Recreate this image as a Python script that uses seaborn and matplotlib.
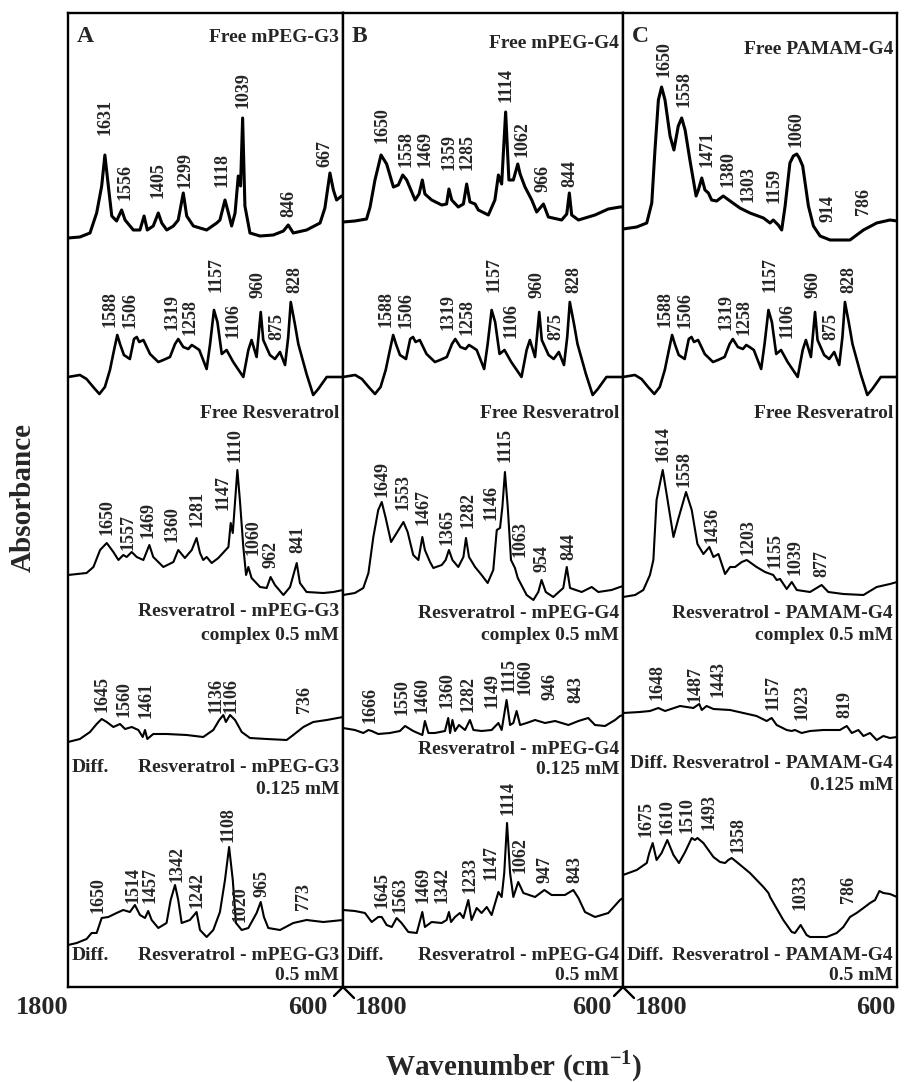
import matplotlib
matplotlib.use("Agg")
import matplotlib.pyplot as plt
from matplotlib.lines import Line2D
import numpy as np
import pandas as pd
import seaborn as sns

sns.set_theme(style="white")
plt.rcParams['font.family'] = ['Liberation Serif', 'DejaVu Serif']
plt.rcParams['font.weight'] = 'bold'
plt.rcParams['mathtext.fontset'] = 'custom'
plt.rcParams['mathtext.rm'] = 'Liberation Serif:bold'
plt.rcParams['mathtext.bf'] = 'Liberation Serif:bold'

# ---- spectra: wavenumber (cm-1) and absorbance above the trace baseline (a.u.)
g3_wn = [1800, 1748, 1704, 1675, 1653, 1639, 1624, 1609, 1588, 1566, 1551, 1515, 1486, 1468, 1454, 1428,
         1406, 1391, 1369, 1340, 1319, 1297, 1282, 1253, 1195, 1151, 1137, 1115, 1100, 1086, 1071, 1057,
         1047, 1038, 1028, 1006, 962, 904, 860, 839, 817, 759, 700, 679, 657, 642, 628, 606, 600]
g3_ab = [0, 1, 5, 25, 52, 83, 52, 22, 17, 28, 18, 8, 8, 22, 8, 12,
         25, 15, 8, 12, 18, 45, 22, 12, 8, 15, 18, 38, 25, 12, 25, 62,
         52, 120, 32, 5, 2, 3, 7, 13, 5, 8, 15, 30, 65, 48, 38, 42, 42]

g4_wn = [1800, 1749, 1699, 1684, 1663, 1637, 1613, 1584, 1563, 1544, 1527, 1491, 1474, 1460, 1449, 1420,
         1377, 1356, 1346, 1334, 1306, 1284, 1270, 1256, 1234, 1220, 1177, 1149, 1134, 1120, 1103, 1089,
         1070, 1051, 1041, 1020, 991, 970, 941, 920, 863, 841, 830, 820, 791, 720, 663, 613, 600]
g4_ab = [0, 1, 3, 15, 42, 67, 58, 35, 37, 47, 42, 22, 28, 42, 28, 22,
         17, 18, 33, 22, 15, 18, 38, 20, 18, 12, 7, 22, 47, 38, 110, 42,
         42, 58, 48, 35, 22, 10, 18, 5, 2, 8, 29, 7, 2, 7, 13, 15, 15]

pam_wn = [1800, 1740, 1696, 1674, 1660, 1645, 1631, 1616, 1594, 1577, 1558, 1543, 1528, 1507, 1480, 1470,
          1455, 1441, 1426, 1412, 1390, 1361, 1331, 1288, 1244, 1185, 1156, 1142, 1120, 1105, 1090, 1069,
          1054, 1039, 1028, 1013, 988, 966, 937, 893, 806, 747, 689, 631, 600]
pam_ab = [-1, 1, 5, 25, 78, 128, 141, 128, 92, 78, 102, 110, 98, 68, 32, 38,
          50, 38, 35, 28, 27, 32, 27, 20, 15, 10, 5, 8, 3, -2, 22, 65,
          72, 74, 70, 62, 22, 2, -8, -12, -12, -2, 5, 8, 7]

res_wn = [1800, 1748, 1719, 1690, 1663, 1639, 1617, 1599, 1585, 1573, 1556, 1530, 1512, 1500, 1489, 1471,
          1442, 1406, 1384, 1355, 1333, 1319, 1297, 1275, 1260, 1246, 1227, 1195, 1180, 1163, 1148, 1129,
          1108, 1079, 1035, 1013, 999, 977, 959, 948, 919, 897, 875, 853, 839, 828, 810, 795, 759, 730,
          708, 671, 600]
res_ab = [0, 2, -2, -10, -17, -10, 7, 27, 42, 33, 22, 18, 38, 40, 35, 37,
          23, 15, 17, 20, 33, 38, 30, 28, 32, 30, 27, 8, 33, 67, 55, 23,
          27, 15, 0, 27, 37, 20, 65, 37, 22, 18, 25, 12, 40, 75, 53, 33, 3, -18,
          -12, 0, 0]

cg3_wn = [1800, 1719, 1689, 1660, 1631, 1602, 1580, 1559, 1544, 1522, 1500, 1471, 1445, 1428, 1384, 1340,
          1319, 1308, 1290, 1260, 1239, 1224, 1210, 1195, 1173, 1144, 1100, 1090, 1081, 1061, 1050, 1035,
          1023, 1013, 999, 962, 933, 916, 897, 860, 831, 802, 788, 759, 686, 642, 600]
cg3_ab = [0, 2, 8, 25, 32, 23, 15, 20, 18, 23, 18, 15, 30, 18, 8, 13,
          25, 22, 17, 25, 37, 22, 15, 18, 12, 17, 28, 52, 42, 105, 75, 28,
          0, 8, -3, -12, -13, -2, -10, -20, -12, 12, -8, -17, -18, -17, -15]

cg4_wn = [1800, 1749, 1713, 1691, 1670, 1649, 1634, 1617, 1594, 1570, 1541, 1523, 1499, 1477, 1460, 1449,
          1427, 1413, 1377, 1360, 1346, 1331, 1306, 1284, 1273, 1260, 1234, 1206, 1180, 1156, 1141, 1127,
          1117, 1106, 1094, 1080, 1063, 1051, 1013, 984, 963, 949, 931, 899, 856, 841, 827, 777, 734, 706,
          649, 613, 600]
cg4_ab = [0, 2, 7, 22, 58, 85, 93, 77, 53, 62, 73, 63, 40, 35, 58, 45,
          33, 27, 30, 35, 45, 35, 28, 38, 57, 38, 28, 20, 12, 25, 65, 67,
          88, 123, 88, 35, 27, 17, 0, -5, 3, 15, 3, -2, 7, 28, 7, 3, 8, 3,
          5, 8, 9]

cpam_wn = [1800, 1747, 1711, 1682, 1667, 1653, 1626, 1609, 1579, 1558, 1524, 1499, 1474, 1448, 1422, 1404,
           1382, 1353, 1331, 1309, 1280, 1258, 1215, 1178, 1142, 1127, 1112, 1083, 1061, 1039, 981, 930,
           901, 835, 747, 689, 631, 600]
cpam_ab = [0, 2, 7, 22, 37, 97, 127, 103, 60, 78, 105, 87, 53, 43, 50, 40,
           43, 23, 30, 30, 35, 37, 30, 25, 22, 17, 18, 8, 15, 7, 5, 12,
           5, 3, 2, 10, 13, 15]

d1g3_wn = [1800, 1748, 1704, 1675, 1653, 1631, 1602, 1573, 1551, 1522, 1493, 1474, 1464, 1454, 1428, 1370,
           1282, 1210, 1166, 1140, 1122, 1111, 1093, 1071, 1042, 1006, 933, 846, 817, 773, 730, 671, 600]
d1g3_ab = [0, 3, 10, 18, 23, 20, 15, 18, 13, 15, 12, 5, 12, 3, 8, 8,
           7, 5, 12, 22, 27, 20, 27, 22, 10, 4, 3, 2, 7, 15, 20, 22, 25]

d5g3_wn = [1800, 1762, 1719, 1697, 1675, 1653, 1624, 1588, 1559, 1530, 1508, 1486, 1464, 1450, 1435, 1406,
           1370, 1352, 1333, 1319, 1304, 1268, 1239, 1224, 1195, 1166, 1137, 1115, 1097, 1081, 1067, 1042,
           1013, 977, 959, 945, 926, 875, 817, 759, 686, 600]
d5g3_ab = [0, 2, 6, 12, 12, 27, 28, 32, 35, 33, 40, 30, 27, 34, 25, 17,
           22, 45, 60, 45, 22, 25, 33, 15, 8, 15, 33, 65, 98, 65, 22, 15,
           17, 32, 43, 28, 17, 15, 22, 25, 23, 25]

d1g4_wn = [1800, 1749, 1713, 1691, 1677, 1649, 1599, 1556, 1534, 1499, 1460, 1449, 1434, 1406, 1363, 1349,
           1341, 1331, 1320, 1303, 1277, 1256, 1241, 1206, 1163, 1134, 1120, 1113, 1099, 1084, 1070, 1056,
           1041, 1013, 977, 934, 891, 834, 791, 749, 720, 677, 634, 613, 600]
d1g4_ab = [0, -2, -5, -2, -3, -6, -5, -3, 2, -3, -7, 7, -5, -5, -3, 10,
           -5, 8, -3, 3, -2, 8, -2, -3, -2, 5, -2, 8, 28, 3, 5, 17,
           3, 5, 8, 5, 7, 3, 7, 10, 3, 2, 8, 12, 13]

d5g4_wn = [1800, 1749, 1706, 1677, 1649, 1634, 1613, 1591, 1570, 1549, 1520, 1484, 1460, 1449, 1420, 1377,
           1356, 1346, 1337, 1320, 1299, 1284, 1263, 1249, 1227, 1206, 1184, 1163, 1134, 1120, 1109, 1097,
           1084, 1070, 1049, 1027, 977, 937, 906, 849, 813, 791, 763, 720, 663, 613, 600]
d5g4_ab = [0, -1, -3, -12, -7, -7, -15, -17, -8, -13, -22, -23, -2, -17, -12, -13,
           -10, -2, -12, -7, -3, -8, 10, -10, 2, -3, 3, -5, 18, 13, 37, 87,
           37, 13, 28, 17, 13, 20, 15, 15, 20, 12, -2, -7, -3, 10, 12]

d1pam_wn = [1800, 1726, 1682, 1645, 1616, 1550, 1492, 1466, 1455, 1434, 1404, 1331, 1273, 1215, 1171, 1149,
            1127, 1083, 1061, 1047, 1018, 981, 923, 850, 820, 798, 769, 747, 718, 689, 660, 631, 600]
d1pam_ab = [0, 1, 2, 5, 2, 7, 5, 9, 3, 7, 4, 3, 0, -3, -8, -5,
            -12, -17, -18, -17, -20, -18, -17, -17, -13, -20, -17, -23, -20, -27, -23, -25, -24]

d5pam_wn = [1800, 1740, 1696, 1685, 1670, 1653, 1631, 1606, 1579, 1555, 1528, 1499, 1485, 1474, 1448, 1404,
            1375, 1353, 1339, 1324, 1302, 1244, 1185, 1163, 1156, 1098, 1061, 1047, 1022, 996, 981, 908,
            864, 835, 806, 777, 747, 718, 696, 677, 660, 631, 600]
d5pam_ab = [0, 5, 12, 22, 32, 15, 22, 35, 20, 12, 23, 37, 35, 37, 32, 18,
            13, 12, 15, 17, 13, 2, -12, -18, -22, -45, -57, -58, -50, -60, -62, -62,
            -58, -52, -42, -38, -33, -28, -25, -16, -18, -19, -22]

# peak labels: (text, wavenumber position, height of label foot)
lab_g3 = [("1631", 1639, 852), ("1556", 1551, 787), ("1405", 1406, 789), ("1299", 1289, 799),
          ("1118", 1130, 800), ("1039", 1038, 879), ("846", 834, 770), ("667", 679, 820)]
lab_g4 = [("1650", 1634, 844), ("1558", 1530, 820), ("1469", 1449, 820), ("1359", 1346, 817),
          ("1285", 1270, 817), ("1114", 1103, 885), ("1062", 1034, 830), ("966", 941, 795), ("844", 827, 800)]
lab_pam = [("1650", 1620, 910), ("1558", 1533, 880), ("1471", 1434, 820), ("1380", 1339, 800),
           ("1303", 1251, 785), ("1159", 1137, 784), ("1060", 1042, 840), ("914", 901, 765), ("786", 747, 772)]
lab_res = [("1588", 1617, 660), ("1506", 1530, 659), ("1319", 1348, 657), ("1258", 1268, 652),
           ("1157", 1154, 695), ("1106", 1081, 649), ("960", 969, 689), ("875", 889, 647), ("828", 810, 694)]
lab_cg3 = [("1650", 1631, 452), ("1557", 1537, 437), ("1469", 1450, 449), ("1360", 1348, 445),
           ("1281", 1239, 460), ("1147", 1122, 477), ("1110", 1071, 525), ("1060", 994, 432),
           ("962", 916, 419), ("841", 799, 434)]
lab_cg4 = [("1649", 1634, 490), ("1553", 1541, 477), ("1467", 1456, 462), ("1365", 1356, 442),
           ("1282", 1266, 459), ("1146", 1166, 467), ("1115", 1106, 525), ("1063", 1041, 430),
           ("954", 949, 415), ("844", 834, 427)]
lab_cpam = [("1614", 1626, 525), ("1558", 1533, 500), ("1436", 1412, 444), ("1203", 1251, 432),
            ("1155", 1134, 419), ("1039", 1047, 412), ("877", 930, 410)]
lab_d1g3 = [("1645", 1652, 275), ("1560", 1556, 270), ("1461", 1460, 269), ("1136", 1156, 274),
            ("1106", 1087, 274), ("736", 766, 274)]
lab_d5g3 = [("1650", 1668, 74), ("1514", 1518, 84), ("1457", 1440, 84), ("1342", 1323, 105),
            ("1242", 1239, 79), ("1108", 1100, 145), ("1020", 1050, 65), ("965", 955, 90), ("773", 773, 77)]
lab_d1g4 = [("1666", 1684, 264), ("1550", 1549, 272), ("1460", 1460, 274), ("1360", 1356, 279),
            ("1282", 1263, 275), ("1149", 1163, 279), ("1115", 1089, 295), ("1060", 1020, 292),
            ("946", 913, 287), ("843", 803, 284)]
lab_d5g4 = [("1645", 1634, 79), ("1563", 1556, 74), ("1469", 1456, 84), ("1342", 1377, 84),
            ("1233", 1256, 94), ("1147", 1166, 107), ("1114", 1091, 172), ("1062", 1041, 114),
            ("947", 934, 104), ("843", 806, 104)]
lab_d1pam = [("1648", 1653, 287), ("1487", 1485, 285), ("1443", 1382, 290), ("1157", 1142, 277),
             ("1023", 1017, 267), ("819", 828, 269)]
lab_d5pam = [("1675", 1699, 150), ("1610", 1609, 152), ("1510", 1521, 154), ("1493", 1422, 157),
             ("1358", 1295, 134), ("1033", 1025, 77), ("786", 813, 84)]

# trace baselines (stack offsets) per panel
base_A = [749, 610, 412, 245, 42]
base_B = [765, 610, 392, 259, 77]
base_C = [759, 610, 390, 274, 112]
widths = [2.2, 1.9, 1.5, 1.5, 1.5]

panels = [
    ("A", [(g3_wn, g3_ab, lab_g3), (res_wn, res_ab, lab_res), (cg3_wn, cg3_ab, lab_cg3),
           (d1g3_wn, d1g3_ab, lab_d1g3), (d5g3_wn, d5g3_ab, lab_d5g3)], base_A,
     [("Free mPEG-G3", "r", 38), ("Free Resveratrol", "r", 413), ("Resveratrol - mPEG-G3", "r", 612),
      ("complex 0.5 mM", "r", 635), ("Diff.", "l", 768), ("Resveratrol - mPEG-G3", "r", 768),
      ("0.125 mM", "r", 790), ("Diff.", "l", 955), ("Resveratrol - mPEG-G3", "r", 955), ("0.5 mM", "r", 975)]),
    ("B", [(g4_wn, g4_ab, lab_g4), (res_wn, res_ab, lab_res), (cg4_wn, cg4_ab, lab_cg4),
           (d1g4_wn, d1g4_ab, lab_d1g4), (d5g4_wn, d5g4_ab, lab_d5g4)], base_B,
     [("Free mPEG-G4", "r", 43), ("Free Resveratrol", "r", 413), ("Resveratrol - mPEG-G4", "r", 613),
      ("complex 0.5 mM", "r", 635), ("Resveratrol - mPEG-G4", "r", 750), ("0.125 mM", "r", 770),
      ("Diff.", "l", 955), ("Resveratrol - mPEG-G4", "r", 955), ("0.5 mM", "r", 975)]),
    ("C", [(pam_wn, pam_ab, lab_pam), (res_wn, res_ab, lab_res), (cpam_wn, cpam_ab, lab_cpam),
           (d1pam_wn, d1pam_ab, lab_d1pam), (d5pam_wn, d5pam_ab, lab_d5pam)], base_C,
     [("Free PAMAM-G4", "r", 49), ("Free Resveratrol", "r", 413), ("Resveratrol - PAMAM-G4", "r", 613),
      ("complex 0.5 mM", "r", 635), ("Diff. Resveratrol - PAMAM-G4", "r", 763), ("0.125 mM", "r", 785),
      ("Diff.", "l", 955), ("Resveratrol - PAMAM-G4", "r", 955), ("0.5 mM", "r", 975)]),
]

W, H = 919, 1082
TOP, BOT = 13, 987
edges = [(68, 343), (343, 623), (623, 897)]

fig = plt.figure(figsize=(W / 100, H / 100), dpi=100)

for (x0, x1), (letter, traces, bases, captions) in zip(edges, panels):
    ax = fig.add_axes([x0 / W, 1 - BOT / H, (x1 - x0) / W, (BOT - TOP) / H])
    for (wn, ab, labels), base, lw in zip(traces, bases, widths):
        df = pd.DataFrame({"wn": wn, "abs": np.array(ab) + base})
        sns.lineplot(data=df, x="wn", y="abs", ax=ax, color="black", lw=lw,
                     sort=False, estimator=None)
        for txt, xw, yl in labels:
            ax.text(xw, yl, txt, rotation=90, ha="center", va="bottom",
                    fontsize=13, fontweight="bold")
    ax.set_xlim(1800, 600)
    ax.set_ylim(0, BOT - TOP)
    ax.set_xticks([])
    ax.set_yticks([])
    ax.set_xlabel("")
    ax.set_ylabel("")
    for s in ax.spines.values():
        s.set_linewidth(1.7)
        s.set_color("black")
    tr = ax.get_yaxis_transform()
    pad = 4 / (x1 - x0)
    for txt, side, ypx in captions:
        if side == "r":
            ax.text(1 - pad, BOT - ypx, txt, transform=tr, ha="right", va="center",
                    fontsize=14, fontweight="bold")
        else:
            ax.text(pad, BOT - ypx, txt, transform=tr, ha="left", va="center",
                    fontsize=14, fontweight="bold")
    ax.text(9 / (x1 - x0), BOT - 36, letter, transform=tr, ha="left", va="center",
            fontsize=17, fontweight="bold")

# axis tick labels and notches between panels
for txt, xc in [("1800", 42), ("600", 308), ("1800", 381), ("600", 592), ("1800", 661), ("600", 876)]:
    fig.text(xc / W, 1 - 1008 / H, txt, ha="center", va="center", fontsize=19, fontweight="bold")
for xd in [343, 623]:
    fig.add_artist(Line2D([(xd - 9) / W, xd / W, (xd + 11) / W],
                          [1 - 996 / H, 1 - BOT / H, 1 - 998 / H],
                          color="black", lw=1.7, transform=fig.transFigure))

fig.text(23 / W, 1 - 498 / H, "Absorbance", rotation=90, ha="center", va="center",
         fontsize=21, fontweight="bold")
fig.text(514 / W, 1 - 1066 / H, r"Wavenumber (cm$^{\mathbf{-1}}$)", ha="center", va="center",
         fontsize=21, fontweight="bold")

fig.savefig("out.png", dpi=100, facecolor="white")
